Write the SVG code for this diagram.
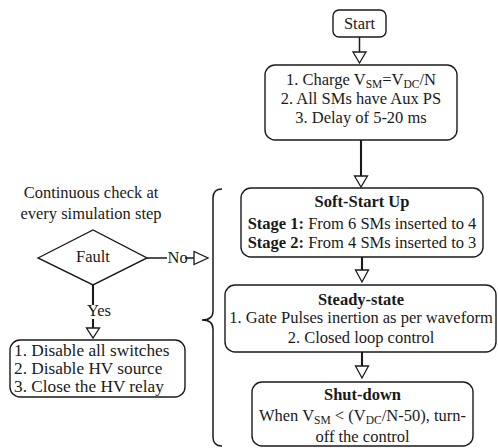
<svg xmlns="http://www.w3.org/2000/svg" width="498" height="448" viewBox="0 0 498 448">
<style>
text{font-family:"Liberation Serif","Times New Roman",serif;font-size:16.5px;fill:#1a1a1a}
.c{text-anchor:middle}
.b{font-weight:bold}
.lg{font-size:17.3px}
.box{fill:#fff;stroke:#1a1a1a;stroke-width:1.4}
.ln{fill:none;stroke:#1a1a1a;stroke-width:1.5}
.thick{stroke-width:2.1}
.arr{fill:#fff;stroke:#1a1a1a;stroke-width:1.3;stroke-linejoin:miter}
.sub{font-size:11.5px}
</style>
<rect width="498" height="448" fill="#fff"/>
<g id="connectors">
<line class="ln" x1="359.5" y1="37" x2="359.5" y2="52"/>
<polygon class="arr" points="353,52 366,52 359.5,63"/>
<line class="ln thick" x1="361" y1="140" x2="361" y2="176"/>
<polygon class="arr" points="354.5,176 367.5,176 361,187"/>
<line class="ln thick" x1="362" y1="257" x2="362" y2="270"/>
<polygon class="arr" points="355.5,270 368.5,270 362,282"/>
<line class="ln thick" x1="362" y1="352" x2="362" y2="366"/>
<polygon class="arr" points="355.5,366 368.5,366 362,378"/>
<line class="ln" x1="147" y1="258" x2="167" y2="258"/>
<line class="ln" x1="185" y1="258" x2="194" y2="258"/>
<polygon class="arr" points="194,251.5 194,264.5 208,258"/>
<line class="ln thick" x1="93" y1="285" x2="93" y2="305"/>
<line class="ln thick" x1="93" y1="319" x2="93" y2="328"/>
<polygon class="arr" points="86.5,328 99.5,328 93,338"/>
<path class="ln" d="M222,189 Q213,189 213,198 L213,311 Q213,320 202,320 Q213,320 213,329 L213,437 Q213,446 222,446"/>
</g>
<g id="start">
<rect class="box" x="333" y="10" width="53" height="27" rx="6"/>
<text class="c" x="359.5" y="29">Start</text>
</g>
<g id="charge">
<rect class="box" x="265" y="65" width="192" height="75" rx="10"/>
<text class="c" x="361" y="85">1. Charge V<tspan class="sub" dy="3">SM</tspan><tspan dy="-3">=V</tspan><tspan class="sub" dy="3">DC</tspan><tspan dy="-3">/N</tspan></text>
<text class="c" x="361" y="104">2. All SMs have Aux PS</text>
<text class="c" x="361" y="123">3. Delay of 5-20 ms</text>
</g>
<g id="softstart">
<rect class="box" x="241" y="188" width="242" height="69" rx="10"/>
<text class="c b" x="362" y="207">Soft-Start Up</text>
<text class="c" x="362" y="229"><tspan class="b">Stage 1:</tspan> From 6 SMs inserted to 4</text>
<text class="c" x="362" y="248"><tspan class="b">Stage 2:</tspan> From 4 SMs inserted to 3</text>
</g>
<g id="steady">
<rect class="box" x="225" y="285" width="271" height="67" rx="10"/>
<text class="c b" x="361" y="305">Steady-state</text>
<text class="c" x="361" y="323">1. Gate Pulses inertion as per waveform</text>
<text class="c" x="361" y="343">2. Closed loop control</text>
</g>
<g id="shutdown">
<rect class="box" x="252" y="382" width="221" height="64" rx="10"/>
<text class="c b" x="362.5" y="400">Shut-down</text>
<text class="c" x="362.5" y="421">When V<tspan class="sub" dy="3">SM</tspan><tspan dy="-3"> &lt; (V</tspan><tspan class="sub" dy="3">DC</tspan><tspan dy="-3">/N-50), turn-</tspan></text>
<text class="c" x="362.5" y="442">off the control</text>
</g>
<g id="check-label">
<text class="c" x="91" y="198">Continuous check at</text>
<text class="c" x="91" y="219">every simulation step</text>
</g>
<g id="fault">
<polygon class="box" points="38,258 93,230 147,258 93,285"/>
<text class="c" x="93" y="262">Fault</text>
</g>
<g id="no-label"><text x="167.5" y="263">No</text></g>
<g id="yes-label"><text x="87" y="316">Yes</text></g>
<g id="faultaction">
<rect class="box" x="10" y="340" width="175" height="57" rx="10"/>
<text class="lg" x="14" y="356">1. Disable all switches</text>
<text class="lg" x="14" y="374">2. Disable HV source</text>
<text class="lg" x="14" y="392">3. Close the HV relay</text>
</g>
</svg>
